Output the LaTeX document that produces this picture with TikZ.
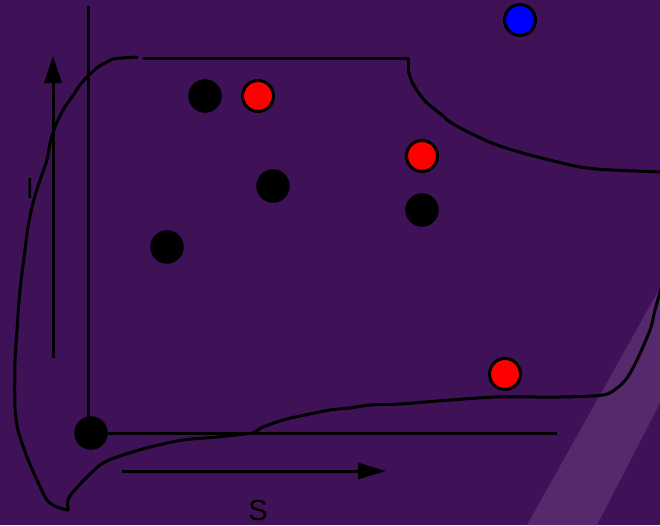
\documentclass[tikz,border=0pt]{standalone}
\usepackage{fontspec}
\setmainfont{Liberation Sans}
\usetikzlibrary{arrows.meta}
\definecolor{bgpurple}{HTML}{3F1258}
\definecolor{stripe}{HTML}{55296B}
\definecolor{dotred}{HTML}{FF0000}
\definecolor{dotblue}{HTML}{0000FF}
\tikzset{
  blackdot/.style={circle,fill=black,draw=black,minimum size=33pt,inner sep=0pt},
  reddot/.style={circle,fill=dotred,draw=black,line width=3pt,minimum size=31pt,inner sep=0pt},
  bluedot/.style={circle,fill=dotblue,draw=black,line width=3pt,minimum size=31pt,inner sep=0pt},
  axisline/.style={line width=3pt,draw=black},
  curveline/.style={line width=3pt,draw=black,line join=round,line cap=round},
  axlabel/.style={font=\fontsize{29}{30}\selectfont,text=black,inner sep=0pt}
}
\begin{document}
\begin{tikzpicture}[x=1pt,y=-1pt]
\fill[bgpurple] (0,0) rectangle (660,525);
\useasboundingbox (0,0) rectangle (660,525);
\fill[stripe] (527,525) -- (660,288) -- (660,403) -- (597,525) -- cycle;

% outline curve
\draw[curveline] plot[smooth,tension=0.5] coordinates {
 (137,57) (122,58) (113,59) (107,62) (98,67) (87,77) (80,85) (72,97) (63,110)
 (55,127) (50,143) (47,160) (40,180) (33,203) (28,227) (25,250) (20,290)
 (17,330) (15,363) (15,407) (18,430) (27,457) (37,480) (47,500) (57,507) (68,510)};
\draw[curveline] plot[smooth,tension=0.5] coordinates {
 (68,510) (68,500) (73,492) (87,477) (103,463) (123,455) (150,447) (183,440)
 (217,437) (253,433)};
\draw[curveline] plot[smooth,tension=0.5] coordinates {
 (253,433) (258,430) (263,427) (283,420) (300,416) (330,410) (350,408) (370,405)
 (400,404) (450,400) (497,397) (560,397) (603,395) (617,388) (627,378) (637,360)
 (650,330) (655,310) (662,285)};
\draw[curveline] (144,58) -- (408,58) -- (408,70);
\draw[curveline] plot[smooth,tension=0.5] coordinates {
 (408,70) (412,82) (418,92) (427,103) (442,115) (450,122) (470,133) (497,145)
 (530,155) (580,167) (613,170) (662,172)};

% axes
\coordinate (ytop) at (88,6);
\node[blackdot] (origin) at (91,433) {};
\coordinate (xend) at (557,433);
\draw[axisline] (ytop) -- (88,433);
\draw[axisline] (origin) -- (xend);

% direction arrows
\coordinate (ia) at (53,358);
\coordinate (ib) at (53,56);
\draw[axisline,-{Triangle[length=27pt,width=17pt]}] (ia) -- (ib);
\coordinate (sa) at (122,471);
\coordinate (sb) at (386,471);
\draw[axisline,-{Triangle[length=28pt,width=16pt]}] (sa) -- (sb);
\node[axlabel] (ilab) at (30,189) {I};
\node[axlabel] (slab) at (258,511) {S};

% dots
\node[blackdot] (b1) at (205,96) {};
\node[reddot] (r1) at (258,96) {};
\node[blackdot] (b2) at (273,186) {};
\node[blackdot] (b3) at (167,247) {};
\node[blackdot] (b4) at (422,210) {};
\node[reddot] (r2) at (422,156) {};
\node[reddot] (r3) at (505,374) {};
\node[bluedot] (u1) at (520,20) {};
\end{tikzpicture}
\end{document}
